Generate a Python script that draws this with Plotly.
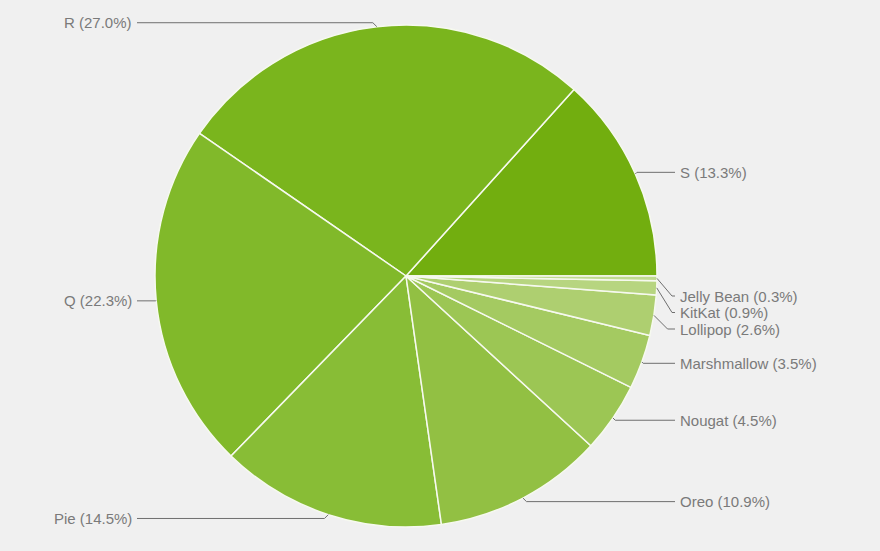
import math
import plotly.graph_objects as go

# Android version distribution
versions = ["S", "R", "Q", "Pie", "Oreo", "Nougat", "Marshmallow", "Lollipop", "KitKat", "Jelly Bean"]
shares = [13.3, 27.0, 22.3, 14.5, 10.9, 4.5, 3.5, 2.6, 0.9, 0.3]
colors = ["#72ae0f", "#7ab51d", "#81b92a", "#88bd36", "#92c043",
          "#9cc654", "#a4ca61", "#aecf70", "#b7d580", "#c0da8f"]

W, H = 880, 551
cx, cy, r = 406, 276, 251
total = sum(shares)

fig = go.Figure(go.Pie(
    labels=versions,
    values=shares,
    sort=False,
    direction="counterclockwise",
    rotation=90 - shares[0] / total * 360,
    marker=dict(colors=colors, line=dict(color="#f6f9ef", width=1.5)),
    textinfo="none",
    hoverinfo="label+percent",
    domain=dict(x=[(cx - r) / W, (cx + r) / W],
                y=[(H - cy - r) / H, (H - cy + r) / H]),
))

# leader lines + labels, google charts style
start = 0.0
items = []
for name, v in zip(versions, shares):
    mid = math.radians((start + v / 2) / total * 360)
    start += v
    ex, ey = cx + r * math.cos(mid), cy - r * math.sin(mid)
    ly = cy - (r + 4) * math.sin(mid)
    items.append(dict(text=f"{name} ({v:.1f}%)", ex=ex, ey=ey, ly=ly,
                      right=math.cos(mid) >= 0, lower=math.sin(mid) < 0))

gap = 16.5
for side in (True, False):
    grp = sorted([it for it in items if it["right"] == side], key=lambda it: it["ly"])
    prev = None
    for it in grp:
        if it["lower"]:
            it["ly"] = max(it["ly"], cy + 20)
        if prev is not None:
            it["ly"] = max(it["ly"], prev + gap)
        prev = it["ly"]

def px(x):
    return x / W

def py(y):
    return 1 - y / H

for it in items:
    dy = abs(it["ly"] - it["ey"])
    if it["right"]:
        tx, lx = 678, 675
        elbow = it["ex"] + min(dy, max(0, 672 - it["ex"]))
    else:
        tx, lx = 134, 137
        elbow = it["ex"] - min(dy, 8)
    path = (f"M {px(it['ex'])},{py(it['ey'])} L {px(elbow)},{py(it['ly'])} "
            f"L {px(lx)},{py(it['ly'])}")
    fig.add_shape(type="path", path=path, xref="paper", yref="paper",
                  line=dict(color="#6f6f6f", width=1))
    fig.add_annotation(x=px(tx), y=py(it["ly"]), xref="paper", yref="paper",
                       text=it["text"], showarrow=False,
                       xanchor="left" if it["right"] else "right", yanchor="middle",
                       font=dict(family="Liberation Sans, Arial", size=15, color="#7a7a7a"))

fig.update_layout(
    width=W, height=H,
    margin=dict(l=0, r=0, t=0, b=0),
    paper_bgcolor="#f0f0f0",
    plot_bgcolor="#f0f0f0",
    showlegend=False,
)

fig.write_html("out.html", config={"displayModeBar": False})

# drop the default page margin so the figure sits at the window corner
with open("out.html") as f:
    html = f.read()
html = html.replace("<body>", '<body style="margin:0;background:#f0f0f0">', 1)
with open("out.html", "w") as f:
    f.write(html)
